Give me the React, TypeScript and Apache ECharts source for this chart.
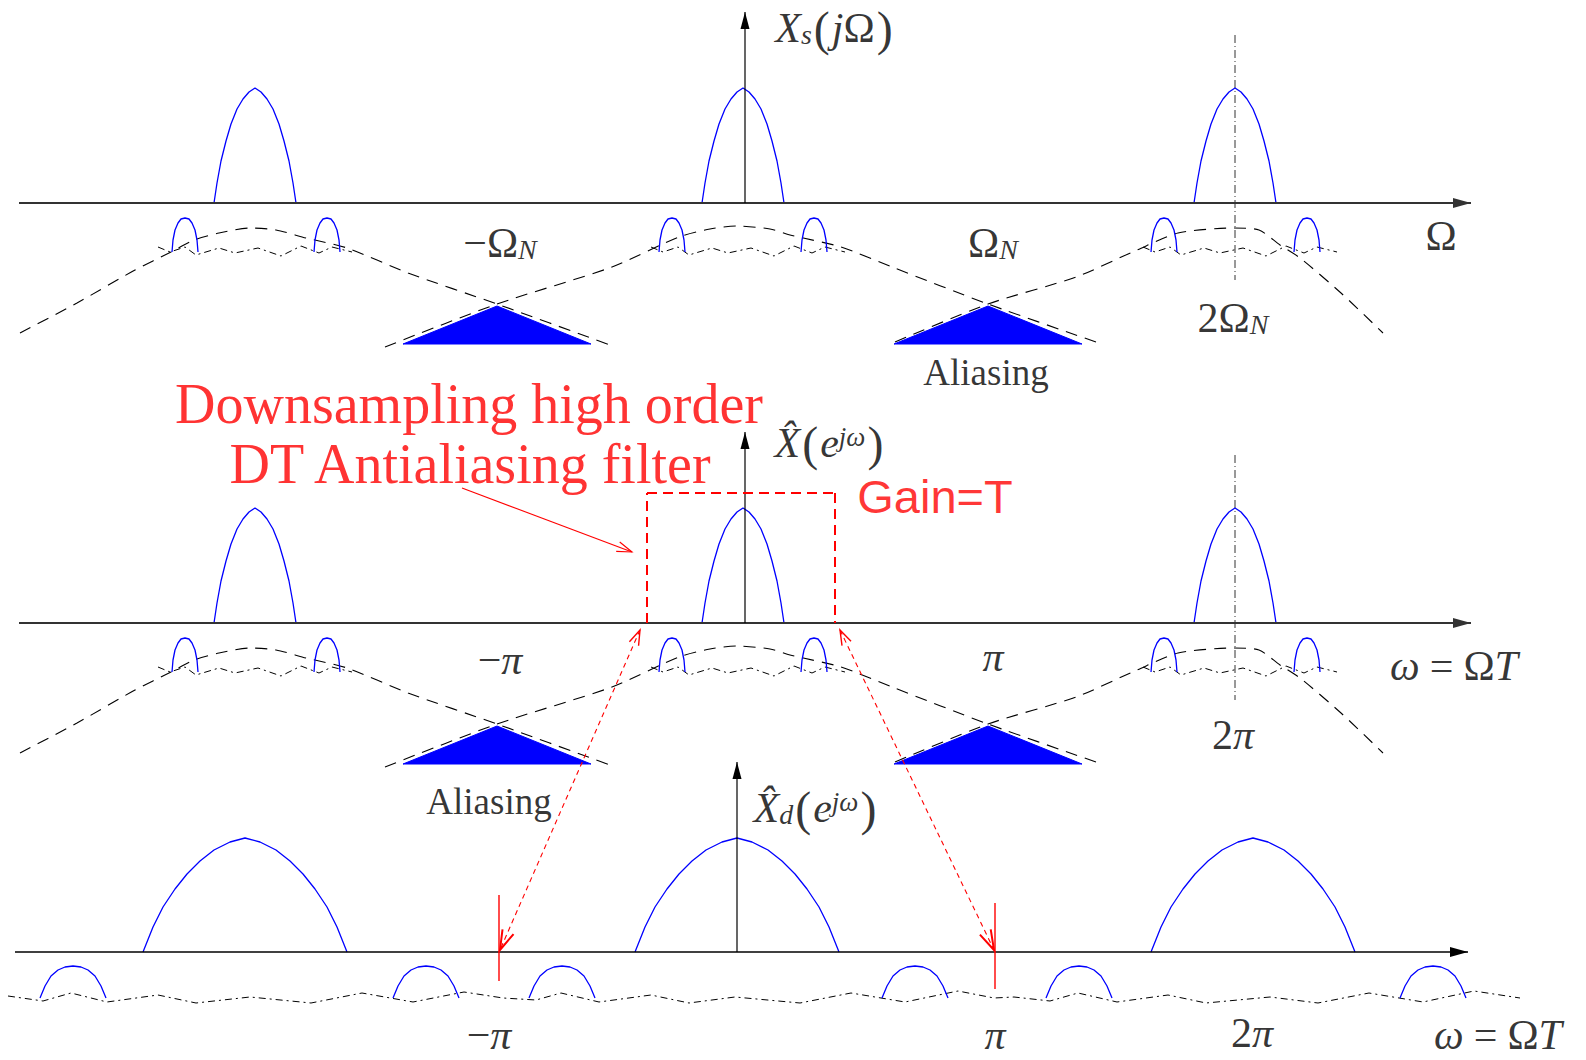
import React, { useEffect, useRef } from "react";
import * as echarts from "echarts";

const CANVAS_W = 1586;
const CANVAS_H = 1060;

const SERIF = '"Liberation Serif", "Times New Roman", "DejaVu Serif", serif';
const SANS = '"Liberation Sans", Arial, sans-serif';

// ---------- upper two panels: Xs(jΩ) and X̂(e^{jω}) ----------
const upperAxisY = [203, 623];
const upperBigLobeX = [255, 743, 1235];
// [dx, height above axis]
const upperBigLobeShape = [
  [-41, 0], [-38, 20], [-34, 42], [-29, 62], [-24, 79], [-18, 94], [-12, 104], [-6, 111], [0, 115],
  [6, 111], [12, 104], [18, 94], [24, 79], [29, 62], [34, 42], [38, 20], [41, 0],
];
const upperSmallLobeX = [185, 327, 672, 814, 1164, 1307];
const upperSmallLobeDepth = 49;
// [dx, height above lobe base]
const upperSmallLobeShape = [
  [-13, 0], [-12, 12], [-10, 22], [-7, 29], [-4, 33], [0, 34], [4, 33], [7, 29], [10, 22], [12, 12], [13, 0],
];
// wide (pre-filter) spectra, [x, depth below axis]
const wideLeft = [
  [20, 130], [77, 100], [135, 67], [171, 49], [194, 37], [219, 30], [250, 25], [276, 27],
  [306, 35], [347, 45], [408, 70], [497, 101], [610, 142],
];
const wideCenter = [
  [385, 144], [497, 101], [612, 64], [679, 34], [710, 26], [737, 23], [770, 26], [790, 32],
  [841, 44], [892, 64], [988, 101], [1096, 139],
];
const wideRight = [
  [895, 139], [988, 101], [1076, 74], [1137, 47], [1178, 30], [1234, 25], [1259, 27],
  [1280, 42], [1300, 55], [1341, 90], [1383, 130],
];
const upperZigzagX = [250, 743, 1235];
// [dx, depth below axis]
const upperZigzagShape = [
  [-92, 44], [-80, 49], [-65, 44], [-54, 52], [-31, 45], [-15, 50], [8, 45], [31, 53],
  [51, 43], [69, 50], [82, 44], [102, 49],
];
const aliasTriangleX = [497, 988];
// [dx, depth below axis]
const aliasTriangleShape = [[-94, 141], [0, 103], [94, 141]];

// ---------- bottom panel: X̂d(e^{jω}) ----------
const lowerAxisY = 952;
const lowerBigLobeX = [245, 737, 1253];
const lowerBigLobeShape = [
  [-102, 0], [-92, 25], [-82, 45], [-70, 63], [-58, 78], [-45, 91], [-31, 102], [-15, 110], [0, 114],
  [15, 110], [31, 102], [45, 91], [58, 78], [70, 63], [82, 45], [92, 25], [102, 0],
];
const lowerSmallLobeX = [73, 426, 562, 915, 1079, 1433];
const lowerSmallLobeDepth = 46;
const lowerSmallLobeShape = [
  [-33, 0], [-28, 12], [-22, 22], [-15, 28], [-8, 31], [0, 32], [8, 31], [15, 28], [22, 22], [28, 12], [33, 0],
];
// [x, depth below axis]
const lowerZigzag = [
  [8, 44], [43, 49], [71, 41], [107, 50], [158, 43], [196, 51], [250, 45], [311, 51], [362, 41],
  [413, 50], [464, 40], [503, 46], [536, 48], [561, 41], [599, 50], [651, 43], [689, 51], [735, 45],
  [800, 51], [851, 41], [905, 50], [958, 39], [994, 46], [1014, 45], [1050, 49], [1078, 41],
  [1117, 50], [1168, 43], [1206, 51], [1270, 45], [1318, 51], [1369, 41], [1423, 50], [1474, 39], [1520, 46],
];

// ---------- annotation segments [x1, y1, x2, y2] ----------
const upperAxes = [[19, 203, 1471, 203], [19, 623, 1471, 623]];
const lowerAxes = [[15, 952, 1468, 952]];
const ordinateArrows = [[745, 203, 745, 12], [745, 623, 745, 432], [737, 952, 737, 762]];
const guideLines = [[1235, 35, 1235, 280], [1235, 455, 1235, 700]];
const filterBox = [[647, 623, 647, 493], [647, 493, 835, 493], [835, 493, 835, 623]];
const pointerArrow = [[462, 488, 632, 552]];
const bridgeArrows = [[640, 630, 500, 950], [840, 630, 994, 950]];
const cutoffTicks = [[499, 895, 499, 981], [995, 903, 995, 989]];

// ---------- labels ----------
const labelText = [
  "{i|X}{sub|s}{p|(}{i|j}{r|Ω}{p|)}",
  "{r|−Ω}{sub|N}",
  "{r|Ω}{sub|N}",
  "{r|Ω}",
  "{r|2Ω}{sub|N}",
  "{w|Aliasing}",
  "{red|Downsampling high order}",
  "{red|DT Antialiasing filter}",
  "{i|X̂}{p|(}{i|e}{sup|jω}{p|)}",
  "{gain|Gain=T}",
  "{r|−}{i|π}",
  "{i|π}",
  "{r|2}{i|π}",
  "{i|ω}{eq|=}{r|Ω}{i|T}",
  "{w|Aliasing}",
  "{i|X̂}{sub|d}{p|(}{i|e}{sup|jω}{p|)}",
  "{r|−}{i|π}",
  "{i|π}",
  "{r|2}{i|π}",
  "{i|ω}{eq|=}{r|Ω}{i|T}",
];
const labelPos = [
  [835, 28], [500, 243], [993, 243], [1441, 236], [1233, 318], [986, 372],
  [469, 404], [470, 464], [830, 443], [935, 496],
  [500, 660], [993, 657], [1233, 735], [1454, 666], [489, 801],
  [816, 808], [489, 1035], [995, 1035], [1252, 1033], [1498, 1035],
];

const RICH: any = {
  i: { fontFamily: SERIF, fontStyle: "italic", fontSize: 42, lineHeight: 40, color: "#000" },
  r: { fontFamily: SERIF, fontSize: 42, lineHeight: 40, color: "#000" },
  eq: { fontFamily: SERIF, fontSize: 42, lineHeight: 40, color: "#000", padding: [0, 10, 0, 10] },
  p: { fontFamily: SERIF, fontSize: 48, lineHeight: 40, color: "#000", padding: [0, 2, 0, 2] },
  sub: { fontFamily: SERIF, fontStyle: "italic", fontSize: 28, lineHeight: 16, verticalAlign: "bottom", color: "#000" },
  sup: { fontFamily: SERIF, fontStyle: "italic", fontSize: 27, lineHeight: 16, verticalAlign: "top", color: "#000" },
  w: { fontFamily: SERIF, fontSize: 37, lineHeight: 36, color: "#000" },
  red: { fontFamily: SERIF, fontSize: 56, lineHeight: 56, color: "#ff0000" },
  gain: { fontFamily: SANS, fontSize: 47, lineHeight: 44, color: "#ff0000" },
};

const BLUE = { color: "#0000ff", width: 1.3 };
const DASHED = { color: "#000", width: 1.1, type: [12, 8] };
const DASHDOT = { color: "#000", width: 1, type: [7, 4, 2, 4] };

function polyline(pts: number[][], lineStyle: any, smooth: number | boolean = false, z = 3) {
  return {
    type: "line",
    data: pts,
    showSymbol: false,
    symbol: "none",
    silent: true,
    smooth,
    lineStyle,
    z,
    animation: false,
  };
}

function headPoints(tip: number[], from: number[], len: number, half: number) {
  const ang = Math.atan2(tip[1] - from[1], tip[0] - from[0]);
  const cx = tip[0] - len * Math.cos(ang);
  const cy = tip[1] - len * Math.sin(ang);
  const nx = -Math.sin(ang) * half;
  const ny = Math.cos(ang) * half;
  return [[cx + nx, cy + ny], [tip[0], tip[1]], [cx - nx, cy - ny]];
}

function segmentSeries(data: number[][], st: any) {
  return {
    type: "custom",
    silent: true,
    clip: false,
    z: st.z ?? 5,
    encode: { x: [0, 2], y: [1, 3] },
    data,
    renderItem: (_p: any, api: any) => {
      const a = api.coord([api.value(0), api.value(1)]);
      const b = api.coord([api.value(2), api.value(3)]);
      const children: any[] = [
        {
          type: "line",
          shape: { x1: a[0], y1: a[1], x2: b[0], y2: b[1] },
          style: { stroke: st.stroke, lineWidth: st.lineWidth, lineDash: st.dash || null, fill: null },
        },
      ];
      if (st.head === "fill") {
        children.push({
          type: "polygon",
          shape: { points: headPoints(b, a, st.len, st.half) },
          style: { fill: st.stroke, stroke: null },
        });
      } else if (st.head === "open" || st.head === "both") {
        children.push({
          type: "polyline",
          shape: { points: headPoints(b, a, st.len, st.half) },
          style: { stroke: st.stroke, lineWidth: st.headWidth || st.lineWidth, fill: null },
        });
        if (st.head === "both") {
          children.push({
            type: "polyline",
            shape: { points: headPoints(a, b, st.len2 || st.len, st.half2 || st.half) },
            style: { stroke: st.stroke, lineWidth: st.headWidth2 || st.lineWidth, fill: null },
          });
        }
      }
      return { type: "group", children };
    },
  };
}

function buildOption() {
  const series: any[] = [];

  upperAxisY.forEach((ay) => {
    [wideLeft, wideCenter, wideRight].forEach((c) =>
      series.push(polyline(c.map(([x, d]) => [x, ay + d]), DASHED, 0.25, 2))
    );
    upperZigzagX.forEach((cx) =>
      series.push(polyline(upperZigzagShape.map(([dx, d]) => [cx + dx, ay + d]), DASHDOT, false, 2))
    );
    upperBigLobeX.forEach((cx) =>
      series.push(polyline(upperBigLobeShape.map(([dx, h]) => [cx + dx, ay - h]), BLUE))
    );
    upperSmallLobeX.forEach((cx) =>
      series.push(
        polyline(upperSmallLobeShape.map(([dx, h]) => [cx + dx, ay + upperSmallLobeDepth - h]), BLUE)
      )
    );
  });

  series.push(polyline(lowerZigzag.map(([x, d]) => [x, lowerAxisY + d]), DASHDOT, false, 2));
  lowerBigLobeX.forEach((cx) =>
    series.push(polyline(lowerBigLobeShape.map(([dx, h]) => [cx + dx, lowerAxisY - h]), BLUE))
  );
  lowerSmallLobeX.forEach((cx) =>
    series.push(
      polyline(lowerSmallLobeShape.map(([dx, h]) => [cx + dx, lowerAxisY + lowerSmallLobeDepth - h]), BLUE)
    )
  );

  // aliasing triangles
  const triData: number[][] = [];
  upperAxisY.forEach((ay) => aliasTriangleX.forEach((tx) => triData.push([tx, ay])));
  series.push({
    type: "custom",
    silent: true,
    clip: false,
    z: 4,
    encode: { x: 0, y: 1 },
    data: triData,
    renderItem: (_p: any, api: any) => {
      const x = api.value(0);
      const y = api.value(1);
      return {
        type: "polygon",
        shape: { points: aliasTriangleShape.map(([dx, d]) => api.coord([x + dx, y + d])) },
        style: { fill: "#0000ff", stroke: "#0000ff", lineWidth: 1 },
      };
    },
  });

  series.push(segmentSeries(upperAxes, { stroke: "#333", lineWidth: 1.8, head: "fill", len: 18, half: 5 }));
  series.push(segmentSeries(lowerAxes, { stroke: "#000", lineWidth: 1.5, head: "fill", len: 18, half: 5 }));
  series.push(segmentSeries(ordinateArrows, { stroke: "#000", lineWidth: 1.2, head: "fill", len: 17, half: 4.5 }));
  series.push(segmentSeries(guideLines, { stroke: "#333", lineWidth: 1, dash: [8, 3, 1, 3], z: 3 }));
  series.push(segmentSeries(filterBox, { stroke: "#ff0000", lineWidth: 2, dash: [10, 6] }));
  series.push(segmentSeries(pointerArrow, { stroke: "#ff0000", lineWidth: 1.1, head: "open", len: 15, half: 5 }));
  series.push(
    segmentSeries(bridgeArrows, {
      stroke: "#ff0000",
      lineWidth: 1.1,
      dash: [5, 4],
      head: "both",
      len: 20,
      half: 6,
      headWidth: 2,
      len2: 15,
      half2: 5,
      headWidth2: 1.4,
    })
  );
  series.push(segmentSeries(cutoffTicks, { stroke: "#ff0000", lineWidth: 1.4 }));

  series.push({
    type: "scatter",
    symbolSize: 1,
    silent: true,
    z: 10,
    itemStyle: { color: "rgba(0,0,0,0)" },
    data: labelText.map((t, i) => ({
      value: labelPos[i],
      label: {
        show: true,
        position: "inside",
        formatter: t,
        rich: RICH,
        align: "center",
        verticalAlign: "middle",
      },
    })),
  });

  return {
    animation: false,
    backgroundColor: "#fff",
    grid: { left: 0, right: 0, top: 0, bottom: 0, containLabel: false },
    xAxis: { type: "value", min: 0, max: CANVAS_W, show: false },
    yAxis: { type: "value", min: 0, max: CANVAS_H, inverse: true, show: false },
    series,
  };
}

export default function App() {
  const ref = useRef<HTMLDivElement>(null);
  useEffect(() => {
    if (!ref.current) return;
    const chart = echarts.init(ref.current, undefined, { renderer: "svg" });
    chart.setOption(buildOption() as any);
    return () => chart.dispose();
  }, []);
  return (
    <div
      ref={ref}
      style={{
        position: "fixed",
        left: 0,
        top: 0,
        width: CANVAS_W,
        height: CANVAS_H,
        background: "#fff",
      }}
    />
  );
}
